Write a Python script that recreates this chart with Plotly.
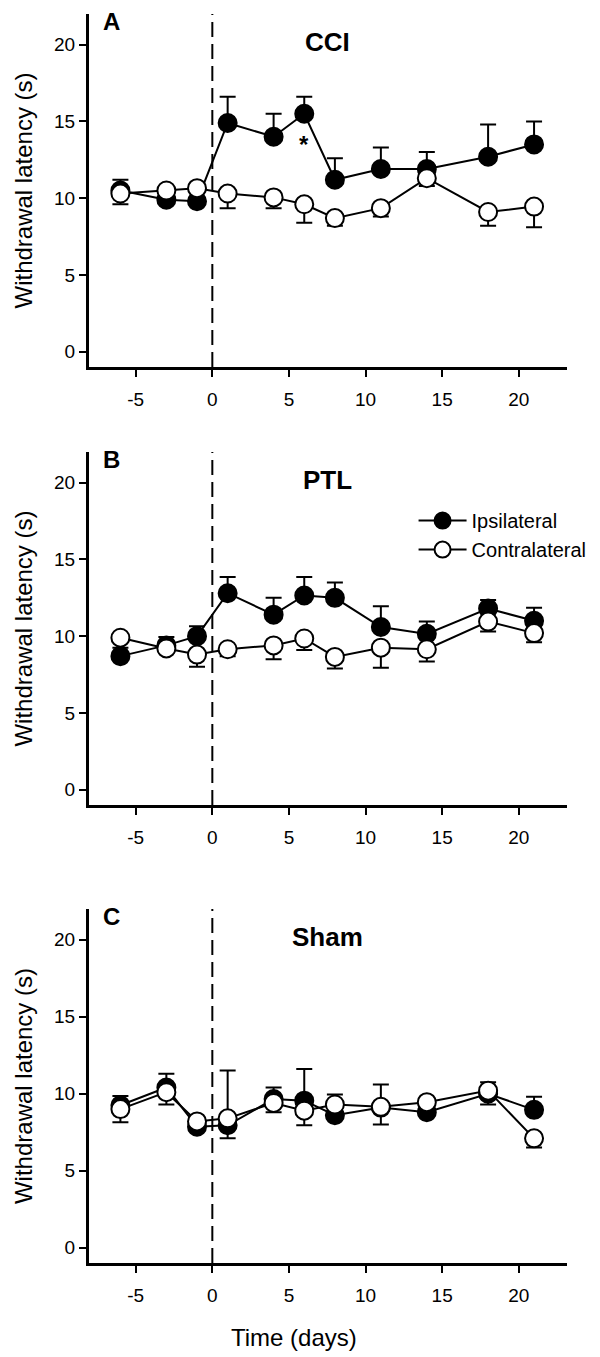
import plotly.graph_objects as go
from plotly.subplots import make_subplots

days = [-6, -3, -1, 1, 4, 6, 8, 11, 14, 18, 21]

cci_ipsi = [10.5, 9.9, 9.8, 14.9, 14.0, 15.5, 11.2, 11.9, 11.9, 12.7, 13.5]
cci_ipsi_up = [0.7, 0.2, 0.2, 1.7, 1.5, 1.1, 1.4, 1.4, 1.1, 2.1, 1.5]
cci_contra = [10.3, 10.5, 10.65, 10.3, 10.05, 9.6, 8.7, 9.35, 11.3, 9.1, 9.45]
cci_contra_dn = [0.7, 0.2, 0.2, 0.95, 0.7, 1.2, 0.5, 0.55, 0.5, 0.9, 1.35]

ptl_ipsi = [8.7, 9.4, 10.0, 12.8, 11.4, 12.65, 12.5, 10.6, 10.15, 11.8, 11.0]
ptl_ipsi_up = [0.55, 0.55, 0.65, 1.05, 1.1, 1.2, 1.0, 1.35, 0.8, 0.56, 0.86]
ptl_contra = [9.9, 9.2, 8.8, 9.15, 9.4, 9.85, 8.65, 9.25, 9.15, 10.95, 10.2]
ptl_contra_dn = [0.2, 0.3, 0.8, 0.45, 0.9, 0.75, 0.75, 1.3, 0.8, 0.65, 0.6]

sham_ipsi = [9.25, 10.4, 7.85, 7.95, 9.65, 9.55, 8.6, 9.1, 8.8, 10.0, 8.95]
sham_ipsi_up = [0.6, 0.9, 0.1, 0.0, 0.75, 2.05, 0.0, 0.0, 0.0, 0.0, 0.85]
sham_ipsi_dn = [0.0, 0.0, 0.0, 0.85, 0.0, 0.0, 0.0, 0.0, 0.0, 0.0, 0.0]
sham_contra = [9.0, 10.1, 8.2, 8.4, 9.4, 8.9, 9.3, 9.15, 9.45, 10.2, 7.1]
sham_contra_up = [0.0, 0.0, 0.0, 3.1, 0.0, 0.0, 0.65, 1.45, 0.0, 0.55, 0.0]
sham_contra_dn = [0.85, 0.8, 0.0, 0.0, 0.6, 0.95, 0.0, 1.15, 0.0, 0.9, 0.6]

panel_letters = ["A", "B", "C"]
panel_titles = ["CCI", "PTL", "Sham"]
series_names = ["Ipsilateral", "Contralateral"]
x_ticks = [-5, 0, 5, 10, 15, 20]
x_tick_text = ["-5", "0", "5", "10", "15", "20"]
y_ticks = [0, 5, 10, 15, 20]
y_title = "Withdrawal latency (s)"
x_title = "Time (days)"

FONT = "Liberation Sans, Arial, sans-serif"

panels = [
    (cci_ipsi, cci_ipsi_up, [0] * 11, cci_contra, [0] * 11, cci_contra_dn),
    (ptl_ipsi, ptl_ipsi_up, [0] * 11, ptl_contra, [0] * 11, ptl_contra_dn),
    (sham_ipsi, sham_ipsi_up, sham_ipsi_dn, sham_contra, sham_contra_up, sham_contra_dn),
]

fig = make_subplots(rows=3, cols=1)
domains = [[0.7174, 1.0], [0.3667, 0.6493], [0.0, 0.2834]]

for i, (ip, ipu, ipd, co, cou, cod) in enumerate(panels):
    r = i + 1
    fig.add_trace(go.Scatter(
        x=days, y=ip, mode="lines+markers", name=series_names[0],
        showlegend=(i == 1), legendrank=1,
        line=dict(color="black", width=2),
        marker=dict(symbol="circle", size=18, color="black", line=dict(color="black", width=2)),
        error_y=dict(type="data", symmetric=False, array=ipu, arrayminus=ipd,
                     color="black", thickness=2, width=8),
    ), row=r, col=1)
    fig.add_trace(go.Scatter(
        x=days, y=co, mode="lines+markers", name=series_names[1],
        showlegend=(i == 1), legendrank=2,
        line=dict(color="black", width=2),
        marker=dict(symbol="circle", size=18, color="white", line=dict(color="black", width=2)),
        error_y=dict(type="data", symmetric=False, array=cou, arrayminus=cod,
                     color="black", thickness=2, width=8),
    ), row=r, col=1)

    xa = "x" if r == 1 else f"x{r}"
    ya = "y" if r == 1 else f"y{r}"
    fig.add_shape(type="line", xref=xa, yref=ya, x0=0, x1=0, y0=-1, y1=22.4,
                  line=dict(color="black", width=2, dash="15px,7px"))
    fig.add_annotation(xref=xa, yref=ya, x=-6.6, y=21.5, text=f"<b>{panel_letters[i]}</b>",
                       showarrow=False, font=dict(family=FONT, size=24, color="black"))
    fig.add_annotation(xref=xa, yref=ya, x=7.5, y=20.2, text=f"<b>{panel_titles[i]}</b>",
                       showarrow=False, font=dict(family=FONT, size=26, color="black"))
    fig.add_annotation(xref="paper", yref="paper", x=-0.138,
                       y=(domains[i][0] + domains[i][1]) / 2, text=y_title, textangle=-90,
                       showarrow=False, xanchor="center", yanchor="middle",
                       font=dict(family=FONT, size=24, color="black"))

    fig.update_xaxes(row=r, col=1, range=[-8.05, 23.15], tickvals=x_ticks, ticktext=x_tick_text,
                     showline=True, linecolor="black", linewidth=3, automargin=False,
                     ticks="outside", ticklen=7, tickwidth=2, tickcolor="black",
                     ticklabelstandoff=6,
                     showgrid=False, zeroline=False,
                     tickfont=dict(family=FONT, size=19, color="black"))
    fig.update_yaxes(row=r, col=1, range=[-1, 22], tickvals=y_ticks, domain=domains[i],
                     showline=True, linecolor="black", linewidth=3, automargin=False,
                     ticks="outside", ticklen=7, tickwidth=2, tickcolor="black",
                     showgrid=False, zeroline=False,
                     tickfont=dict(family=FONT, size=19, color="black"))

fig.add_annotation(xref="paper", yref="paper", x=0.429, y=-0.072, text=x_title,
                   showarrow=False, font=dict(family=FONT, size=24, color="black"))

fig.add_annotation(xref="x", yref="y", x=6, y=13.5, text="<b>*</b>", showarrow=False,
                   font=dict(family=FONT, size=24, color="black"))

fig.update_layout(
    width=592, height=1349,
    margin=dict(l=81, r=33, t=6, b=94),
    paper_bgcolor="white", plot_bgcolor="white",
    font=dict(family=FONT, color="black"),
    legend=dict(x=0.679, y=0.610, xanchor="left", yanchor="top",
                font=dict(family=FONT, size=20, color="black"),
                bgcolor="rgba(0,0,0,0)", tracegroupgap=0, itemsizing="trace",
                itemwidth=48),
)

fig.write_html("out.html")
